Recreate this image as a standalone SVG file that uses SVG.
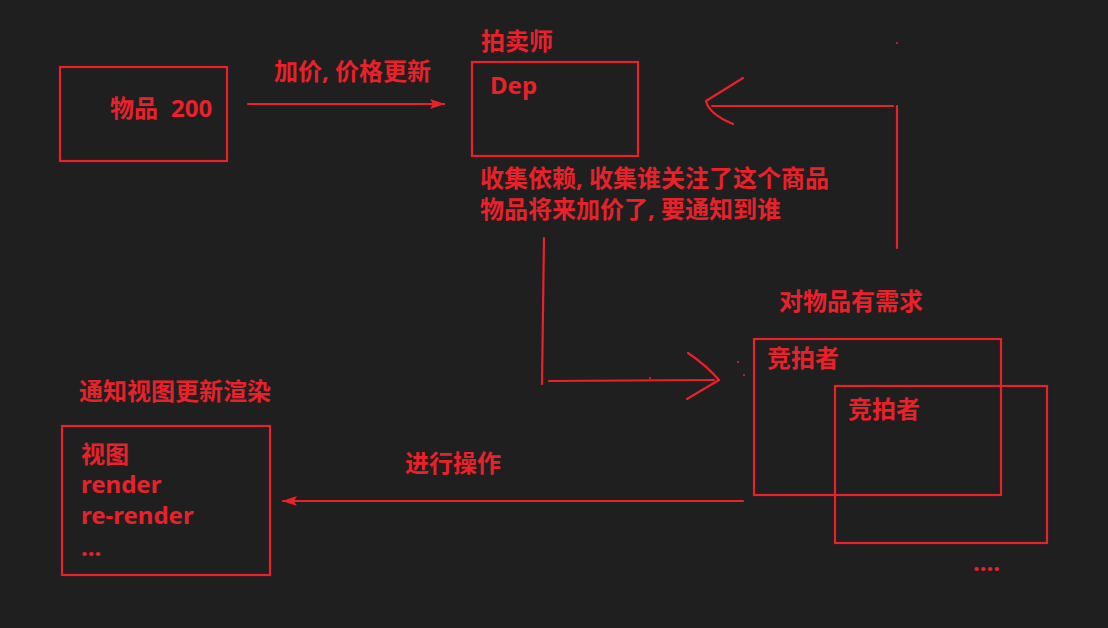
<svg xmlns="http://www.w3.org/2000/svg" width="1108" height="628" viewBox="0 0 1108 628">
<style>
.box{fill:none;stroke:#e8212b;stroke-width:2.2}
.ln{fill:none;stroke:#e8212b;stroke-width:2.2;stroke-linecap:round;stroke-linejoin:round}
.t{fill:#e8212b;font-family:"Noto Sans","Noto Sans CJK SC",sans-serif;font-weight:bold;font-size:24px}
.dot{fill:#e8212b}
</style>
<defs>
<marker id="ah" markerWidth="15" markerHeight="11" refX="14" refY="5" orient="auto" markerUnits="userSpaceOnUse">
<path d="M0,0 L15,5 L0,10 L3,5 Z" fill="#e8212b"/>
</marker>
</defs>
<rect width="1108" height="628" fill="#1f1f1f"/>

<g id="item">
<rect class="box" x="60" y="67" width="167" height="94"/>
<text class="t" y="117"><tspan x="110">物品</tspan><tspan x="171">200</tspan></text>
</g>

<g id="dep">
<text class="t" x="481" y="50">拍卖师</text>
<rect class="box" x="472" y="62" width="166" height="94"/>
<text class="t" x="490" y="94">Dep</text>
<text class="t" x="480" y="187">收集依赖, 收集谁关注了这个商品</text>
<text class="t" x="480" y="218">物品将来加价了, 要通知到谁</text>
</g>

<g id="bidder1">
<text class="t" x="779" y="310">对物品有需求</text>
<rect class="box" x="754" y="339" width="247" height="156"/>
<text class="t" x="767" y="367">竞拍者</text>
</g>

<g id="bidder2">
<rect class="box" x="835" y="386" width="212" height="157"/>
<text class="t" x="848" y="418">竞拍者</text>
<text class="t" x="973" y="571">....</text>
</g>

<g id="view">
<text class="t" x="79" y="400">通知视图更新渲染</text>
<rect class="box" x="62" y="426" width="208" height="149"/>
<text class="t" x="81" y="463">视图</text>
<text class="t" x="81" y="493">render</text>
<text class="t" x="81" y="524">re-render</text>
<text class="t" x="81" y="556">...</text>
</g>

<g id="connectors">
<text class="t" x="274" y="80">加价, 价格更新</text>
<path class="ln" d="M248,104 L444,104" marker-end="url(#ah)"/>

<path class="ln" d="M897,248 L897,106"/>
<path class="ln" d="M893,106 L712,106"/>
<path class="ln" d="M743,78 L706,101 Q709,114 733,124"/>
<circle class="dot" cx="897" cy="43" r="1"/>

<path class="ln" d="M544,238 L542,384"/>
<path class="ln" d="M549,381 L714,380"/>
<path class="ln" d="M688,353 Q706,365 719,380 L687,399"/>
<circle class="dot" cx="650" cy="378" r="1"/>
<circle class="dot" cx="738" cy="362" r="1"/>
<circle class="dot" cx="744" cy="375" r="1"/>

<text class="t" x="405" y="472">进行操作</text>
<path class="ln" d="M743,501 L283,501" marker-end="url(#ah)"/>
</g>
</svg>
